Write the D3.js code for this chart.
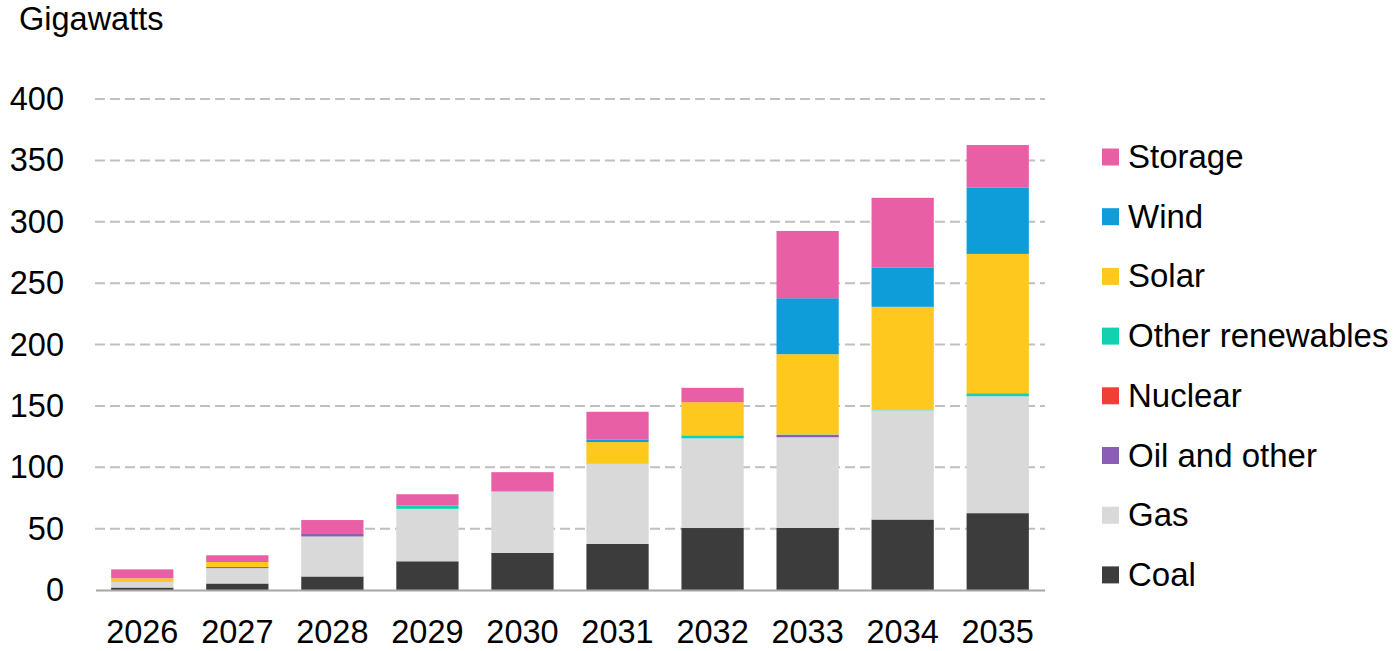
<!DOCTYPE html>
<html>
<head>
<meta charset="utf-8">
<script src="https://cdn.jsdelivr.net/npm/d3@7"></script>
<style>
  body { margin: 0; background: #fff; }
  svg { display: block; font-family: "Liberation Sans", Arial, sans-serif; }
</style>
</head>
<body>
<script>
// Data (gigawatts)
const years = ["2026", "2027", "2028", "2029", "2030", "2031", "2032", "2033", "2034", "2035"];
const coal = [2, 5.3, 11, 23.4, 30.2, 37.5, 50.5, 50.6, 57.4, 62.6];
const gas = [5, 12.5, 32.6, 42.7, 50, 65.7, 73, 73.8, 89, 95.2];
const oilAndOther = [0, 1, 2, 0, 0, 0, 0, 2, 0, 0];
const nuclear = [0, 0, 0, 0, 0, 0, 0, 0, 0, 0];
const otherRenewables = [0.3, 0, 0, 2.7, 0, 0.3, 2.5, 0.3, 0.3, 2.5];
const solar = [2.2, 4, 0, 0, 0, 17, 27, 65.4, 84, 113.5];
const wind = [0, 0, 0, 0, 0.3, 2.2, 0, 45.6, 31.8, 54.2];
const storage = [7.3, 5.5, 11.4, 9.2, 15.5, 22.5, 11.7, 54.8, 57, 34.5];
const yTicks = [0, 50, 100, 150, 200, 250, 300, 350, 400];

// stacking order, bottom to top
const series = [
  { key: "Coal", values: coal, color: "#3c3c3c" },
  { key: "Gas", values: gas, color: "#d9d9d9" },
  { key: "Oil and other", values: oilAndOther, color: "#8a5db7" },
  { key: "Nuclear", values: nuclear, color: "#ee4036" },
  { key: "Other renewables", values: otherRenewables, color: "#14cfb0" },
  { key: "Solar", values: solar, color: "#fec81e" },
  { key: "Wind", values: wind, color: "#0f9dd9" },
  { key: "Storage", values: storage, color: "#e95fa5" },
];

const width = 1399;
const height = 651;

const svg = d3.select("body").append("svg")
  .attr("width", width)
  .attr("height", height);

const x = d3.scaleBand()
  .domain(years)
  .range([95, 1045])
  .paddingInner(0.345)
  .paddingOuter(0.17);

const y = d3.scaleLinear()
  .domain([0, 400])
  .range([590, 99]);

// table for d3.stack
const rows = years.map((yr, i) => {
  const row = { year: yr };
  series.forEach((s) => (row[s.key] = s.values[i]));
  return row;
});
const stacked = d3.stack().keys(series.map((s) => s.key))(rows);

// gridlines
svg.append("g")
  .selectAll("line")
  .data(yTicks.filter((t) => t > 0))
  .join("line")
  .attr("x1", 95)
  .attr("x2", 1045)
  .attr("y1", (d) => y(d))
  .attr("y2", (d) => y(d))
  .attr("stroke", "#bfbfbf")
  .attr("stroke-width", 2)
  .attr("stroke-dasharray", "10,5");

// bars
svg.append("g")
  .selectAll("g")
  .data(stacked)
  .join("g")
  .attr("fill", (d, i) => series[i].color)
  .selectAll("rect")
  .data((d) => d)
  .join("rect")
  .attr("x", (d) => x(d.data.year))
  .attr("width", x.bandwidth())
  .attr("y", (d) => y(d[1]))
  .attr("height", (d) => Math.max(0, y(d[0]) - y(d[1])));

// baseline
svg.append("line")
  .attr("x1", 96)
  .attr("x2", 1045)
  .attr("y1", y(0) + 0.5)
  .attr("y2", y(0) + 0.5)
  .attr("stroke", "#a6a6a6")
  .attr("stroke-width", 2);

// y tick labels
svg.append("g")
  .selectAll("text")
  .data(yTicks)
  .join("text")
  .attr("x", 64)
  .attr("y", (d) => y(d) + 11)
  .attr("text-anchor", "end")
  .attr("font-size", 32.5)
  .attr("fill", "#000")
  .text((d) => d);

// x tick labels
svg.append("g")
  .selectAll("text")
  .data(years)
  .join("text")
  .attr("x", (d) => x(d) + x.bandwidth() / 2)
  .attr("y", 643)
  .attr("text-anchor", "middle")
  .attr("font-size", 32.5)
  .attr("fill", "#000")
  .text((d) => d);

// unit label
svg.append("text")
  .attr("x", 19)
  .attr("y", 30)
  .attr("font-size", 32.5)
  .attr("fill", "#000")
  .text("Gigawatts");

// legend, top to bottom
const legendItems = series.slice().reverse();
const legend = svg.append("g")
  .selectAll("g")
  .data(legendItems)
  .join("g")
  .attr("transform", (d, i) => `translate(1102,${157 + i * 59.7})`);

legend.append("rect")
  .attr("x", 0)
  .attr("y", -8.5)
  .attr("width", 17)
  .attr("height", 17)
  .attr("fill", (d) => d.color);

legend.append("text")
  .attr("x", 26)
  .attr("y", 11)
  .attr("font-size", 33)
  .attr("fill", "#000")
  .text((d) => d.key);
</script>
</body>
</html>
